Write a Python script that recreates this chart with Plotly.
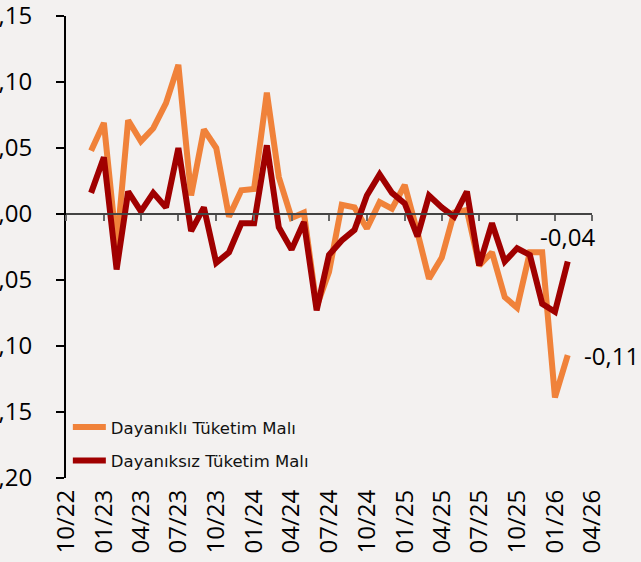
import plotly.graph_objects as go
import pandas as pd

months = pd.date_range("2022-12-01", "2026-02-01", freq="MS")

dayanikli = [0.048, 0.069, -0.025, 0.071, 0.055, 0.065, 0.084, 0.113, 0.014, 0.064,
             0.050, -0.002, 0.018, 0.019, 0.092, 0.028, -0.003, 0.001, -0.070, -0.044,
             0.007, 0.005, -0.011, 0.009, 0.004, 0.022, -0.014, -0.049, -0.033, 0.001,
             0.003, -0.039, -0.029, -0.063, -0.071, -0.029, -0.029, -0.139, -0.107]

dayaniksiz = [0.016, 0.043, -0.042, 0.017, 0.002, 0.016, 0.005, 0.050, -0.013, 0.005,
              -0.037, -0.029, -0.007, -0.007, 0.052, -0.010, -0.027, -0.006, -0.073, -0.031,
              -0.020, -0.012, 0.014, 0.030, 0.016, 0.008, -0.017, 0.014, 0.005, -0.002,
              0.017, -0.039, -0.007, -0.036, -0.026, -0.031, -0.068, -0.074, -0.036]

series_names = ["Dayanıklı Tüketim Malı", "Dayanıksız Tüketim Malı"]
colors = ["#F0823A", "#A00000"]

tick_dates = pd.date_range("2022-10-01", "2026-04-01", freq="3MS")
tick_text = [d.strftime("%m/%y") for d in tick_dates]
x_range = ["2022-10-01", "2026-04-01"]
y_min, y_max = -0.20, 0.15

bg = "#F3F1F0"
tick_font = dict(family="Open Sans", size=24, color="#000")

fig = go.Figure()
for i, (name, vals) in enumerate(zip(series_names, [dayanikli, dayaniksiz])):
    fig.add_trace(go.Scatter(x=months, y=vals, mode="lines", name=name,
                             line=dict(color=colors[i], width=6),
                             legendgroup=f"g{i}"))

def fmt(v):
    return f"{v:.2f}".replace(".", ",")

fig.add_annotation(x=months[-1], y=dayaniksiz[-1], xref="x", yref="y",
                   text=fmt(dayaniksiz[-1]), showarrow=False, yshift=25,
                   font=tick_font)
fig.add_annotation(x=months[-1], y=dayanikli[-1], xref="x", yref="y",
                   text=fmt(dayanikli[-1]), showarrow=False, xanchor="left", xshift=14,
                   font=tick_font)

fig.update_layout(
    width=641, height=562,
    margin=dict(l=66, r=49, t=16, b=84, autoexpand=False),
    paper_bgcolor=bg, plot_bgcolor=bg,
    separators=",.",
    showlegend=True,
    legend=dict(x=0.0035, y=0.1475, xanchor="left", yanchor="top",
                bgcolor="rgba(0,0,0,0)", font=dict(family="DejaVu Sans", size=16.5, color="#111"),
                tracegroupgap=9, itemwidth=33),
    xaxis=dict(type="date", range=x_range, tickvals=tick_dates, ticktext=tick_text,
               tickangle=-90, showgrid=False, zeroline=False, showline=False,
               automargin=False, ticks="", ticklabelstandoff=6, tickfont=tick_font,
               ticklabeloverflow="allow"),
    xaxis2=dict(type="date", range=x_range, tickvals=tick_dates, overlaying="x",
                anchor="free", position=(0 - y_min) / (y_max - y_min),
                showticklabels=False, showgrid=False, zeroline=False,
                showline=True, linecolor="#444", linewidth=1.5,
                ticks="outside", ticklen=6, tickwidth=2, tickcolor="#666"),
    yaxis=dict(range=[y_min, y_max], dtick=0.05, tick0=0, tickformat=".2f",
               showgrid=False, zeroline=False, showline=True, linecolor="#000",
               linewidth=2, ticks="outside", ticklen=8, tickwidth=2, tickcolor="#000",
               automargin=False, ticklabelstandoff=19, tickfont=tick_font,
               ticklabeloverflow="allow"),
)
fig.add_trace(go.Scatter(x=[], y=[], xaxis="x2", showlegend=False))

fig.write_html("out.html", config={"displayModeBar": False},
               post_script="document.body.style.margin='0';document.body.style.overflow='hidden';")
